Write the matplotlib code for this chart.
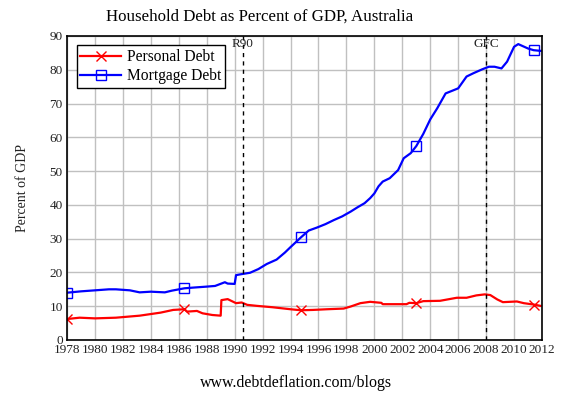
import numpy as np
import matplotlib.pyplot as plt

plt.rcParams['font.family'] = ['Liberation Serif', 'DejaVu Serif']

# Mortgage debt (% of GDP)
years_m = [1978.0, 1979.0, 1980.0, 1981.0, 1981.5, 1982.5, 1983.2, 1984.0, 1985.0, 1985.5,
           1986.4, 1987.0, 1988.0, 1988.6, 1989.3, 1989.5, 1990.0, 1990.1, 1990.5, 1991.1,
           1991.7, 1992.3, 1993.0, 1993.6, 1994.0, 1994.75, 1995.3, 1995.9, 1996.5, 1997.1,
           1997.7, 1998.3, 1998.8, 1999.3, 1999.7, 2000.0, 2000.3, 2000.6, 2001.1, 2001.7,
           2002.1, 2002.6, 2003.0, 2003.5, 2004.0, 2004.5, 2005.1, 2005.4, 2006.0, 2006.6,
           2007.1, 2007.7, 2008.2, 2008.6, 2009.1, 2009.5, 2010.0, 2010.3, 2011.0, 2011.4,
           2011.9]
mortgage = [14.0, 14.4, 14.7, 15.0, 15.0, 14.7, 14.1, 14.3, 14.1, 14.6,
            15.3, 15.5, 15.8, 16.0, 17.1, 16.7, 16.6, 19.2, 19.5, 19.9,
            21.0, 22.5, 23.8, 25.9, 27.5, 30.4, 32.4, 33.3, 34.3, 35.5,
            36.6, 38.0, 39.3, 40.5, 42.0, 43.4, 45.5, 46.9, 47.9, 50.3,
            53.8, 55.3, 57.4, 61.0, 65.3, 68.6, 73.0, 73.5, 74.5, 78.0,
            79.0, 80.1, 80.9, 80.9, 80.4, 82.4, 86.8, 87.6, 86.3, 85.8,
            85.6]
marks_m = [0, 10, 25, 42, 59]

# Personal debt (% of GDP)
years_p = [1978.0, 1978.9, 1980.0, 1981.5, 1983.2, 1984.7, 1985.6, 1986.4, 1986.6, 1987.3,
           1987.7, 1988.4, 1989.0, 1989.05, 1989.5, 1990.1, 1990.5, 1990.9, 1991.6, 1992.7,
           1994.0, 1994.75, 1995.6, 1996.6, 1997.8, 1998.3, 1999.0, 1999.7, 2000.5, 2000.6,
           2002.3, 2002.5, 2003.0, 2003.5, 2004.7, 2005.9, 2006.6, 2007.3, 2007.9, 2008.3,
           2008.8, 2009.2, 2010.2, 2010.7, 2011.4, 2011.9]
personal = [6.2, 6.6, 6.4, 6.6, 7.2, 8.1, 8.9, 9.1, 8.4, 8.6,
            7.9, 7.4, 7.2, 11.8, 12.1, 10.9, 11.1, 10.4, 10.1, 9.7,
            9.1, 8.8, 8.9, 9.1, 9.3, 9.9, 10.9, 11.3, 11.0, 10.6,
            10.6, 11.0, 10.9, 11.5, 11.6, 12.5, 12.5, 13.2, 13.5, 13.3,
            12.0, 11.2, 11.4, 10.9, 10.5, 10.1]
marks_p = [0, 7, 21, 32, 44]

events = ['R90', 'GFC']
event_years = [1990.6, 2008.0]

fig = plt.figure(figsize=(5.66, 3.93), dpi=100)
ax = fig.add_axes([0.1184, 0.1349, 0.8392, 0.7735])

ax.plot(years_p, personal, color='#ff0000', lw=1.6, marker='x', ms=7.5, mew=1.0,
        markevery=marks_p, label='Personal Debt')
ax.plot(years_m, mortgage, color='#0000ff', lw=1.6, marker='s', ms=7, mew=1.0,
        mfc='none', markevery=marks_m, label='Mortgage Debt')

for name, yr in zip(events, event_years):
    ax.axvline(yr, color='black', ls=(0, (3, 3)), lw=1.0)
    ax.text(yr, 89.5, name, ha='center', va='top', fontsize=9.5, color='#222222')

ax.set_xlim(1978, 2012)
ax.set_ylim(0, 90)
ax.set_xticks(np.arange(1978, 2013, 2))
ax.set_yticks(np.arange(0, 91, 10))
ax.grid(True, color='#c0c0c0', lw=1.0)
ax.set_axisbelow(True)
ax.tick_params(length=0, labelsize=9.5, labelcolor='#222222', pad=3)
for s in ax.spines.values():
    s.set_linewidth(1.2)

ax.set_ylabel('Percent of GDP', fontsize=10, color='#222222', labelpad=15)

leg = ax.legend(loc='upper left', bbox_to_anchor=(0.02, 0.97), fontsize=11.2,
                fancybox=False, framealpha=1, edgecolor='black', borderpad=0.25,
                handlelength=2.6, labelspacing=0.2, handletextpad=0.4, borderaxespad=0)
leg.get_frame().set_linewidth(1.0)

fig.text(260 / 566, 1 - 17 / 393, 'Household Debt as Percent of GDP, Australia',
         ha='center', va='center', fontsize=12.2)
fig.text(296 / 566, 1 - 383 / 393, 'www.debtdeflation.com/blogs',
         ha='center', va='center', fontsize=11.5)

fig.savefig('out.png', dpi=100)
